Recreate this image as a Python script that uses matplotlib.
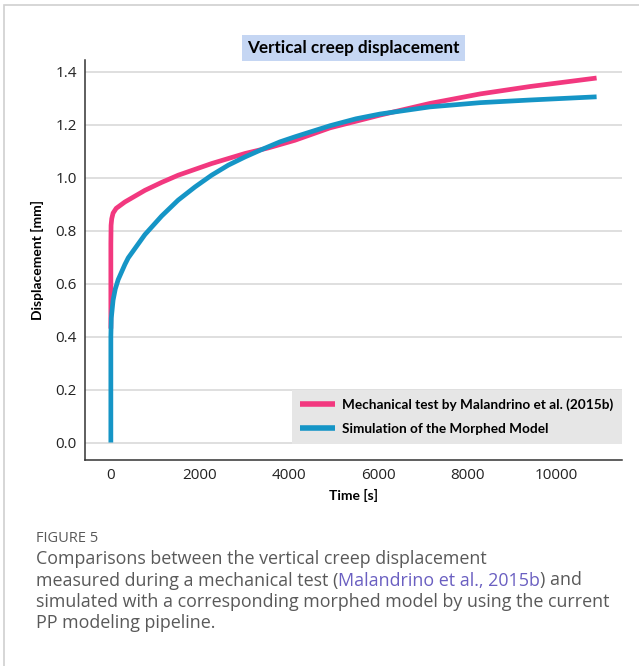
import matplotlib
matplotlib.use("Agg")
import matplotlib.pyplot as plt
from matplotlib.patches import Rectangle

t_test = [0, 0, 5, 20, 50, 120, 315, 765, 1140, 1510, 2260, 3010, 3530, 4130,
          4920, 6040, 7160, 8290, 9410, 10900]
d_test = [0.43, 0.75, 0.82, 0.845, 0.866, 0.884, 0.908, 0.952, 0.982, 1.009, 1.053,
          1.091, 1.112, 1.141, 1.188, 1.236, 1.280, 1.316, 1.344, 1.376]

t_sim = [0, 0, 10, 50, 100, 165, 315, 390, 765, 1140, 1510, 1890, 2260, 2635, 3010,
         3385, 3795, 4130, 4920, 5500, 6040, 7160, 8290, 9410, 10900]
d_sim = [0.0, 0.40, 0.47, 0.537, 0.58, 0.615, 0.672, 0.697, 0.785, 0.855, 0.915,
         0.965, 1.009, 1.047, 1.078, 1.106, 1.135, 1.154, 1.196, 1.222, 1.240,
         1.267, 1.283, 1.293, 1.305]

x_ticks = [0, 2000, 4000, 6000, 8000, 10000]
y_ticks = [0.0, 0.2, 0.4, 0.6, 0.8, 1.0, 1.2, 1.4]

PINK = "#f2387f"
BLUE = "#1595c6"
LINK = "#6a5fc1"
CAP = "#595959"

fig = plt.figure(figsize=(6.39, 6.66), dpi=100)

# card border of the screenshot
fig.patches.append(Rectangle((4 / 639, -0.1), 1.1, 1 - 5 / 666 + 0.1,
                             transform=fig.transFigure, fill=False,
                             edgecolor="#d0d0d0", linewidth=1.2))

ax = fig.add_axes([85 / 639, 1 - 460 / 666, (622 - 85) / 639, (460 - 60) / 666])

ax.plot(t_test, d_test, color=PINK, lw=3.4, solid_capstyle="butt",
        solid_joinstyle="round",
        label="Mechanical test by Malandrino et al. (2015b)", zorder=3)
ax.plot(t_sim, d_sim, color=BLUE, lw=3.4, solid_capstyle="butt",
        solid_joinstyle="round",
        label="Simulation of the Morphed Model", zorder=4)

ax.set_xlim(-580, 11470)
ax.set_ylim(-0.066, 1.444)
ax.set_xticks(x_ticks)
ax.set_yticks(y_ticks)
ax.set_yticklabels([f"{v:.1f}" for v in y_ticks])
ax.tick_params(length=0, labelsize=11, labelcolor="#222222", pad=6)
for lab in ax.get_xticklabels() + ax.get_yticklabels():
    lab.set_family("Open Sans")

ax.grid(axis="y", color="#dcdcdc", lw=1.3)
ax.set_axisbelow(True)
for s in ["top", "right"]:
    ax.spines[s].set_visible(False)
for s in ["left", "bottom"]:
    ax.spines[s].set_color("#333333")
    ax.spines[s].set_linewidth(1.1)

ax.set_xlabel("Time [s]", family="Lato", fontweight="bold", fontsize=10, labelpad=4)
ax.set_ylabel("Displacement [mm]", family="Lato", fontweight="bold", fontsize=10, labelpad=8)

ax.set_title("Vertical creep displacement", family="Lato", fontweight="bold",
             fontsize=12.3, pad=5,
             bbox=dict(facecolor="#c5d6f3", edgecolor="none", boxstyle="square,pad=0.3"))

leg = ax.legend(loc="lower right", bbox_to_anchor=(1.0, 0.041), borderaxespad=0,
                frameon=True, fancybox=False, facecolor="#e6e6e6", edgecolor="none",
                framealpha=1, prop=dict(family="Lato", size=9.8, weight="bold"),
                handlelength=2.55, handletextpad=0.5, labelspacing=0.85,
                borderpad=0.65)
for line in leg.get_lines():
    line.set_linewidth(4)

# caption
fig.text(36 / 639, 1 - 539 / 666, "FIGURE 5", family="Open Sans", fontsize=10.5,
         color=CAP, va="center")
cap_lines = [
    [("Comparisons between the vertical creep displacement", CAP)],
    [("measured during a mechanical test (", CAP), ("Malandrino et al., 2015b", LINK),
     (") and", CAP)],
    [("simulated with a corresponding morphed model by using the current", CAP)],
    [("PP modeling pipeline.", CAP)],
]
cap_y = [559, 580.5, 602, 623.5]

fig.canvas.draw()
renderer = fig.canvas.get_renderer()
for parts, yy in zip(cap_lines, cap_y):
    x = 36 / 639
    for txt, col in parts:
        t = fig.text(x, 1 - yy / 666, txt, family="Open Sans", fontsize=12.9,
                     color=col, va="center")
        bb = t.get_window_extent(renderer)
        x += bb.width / fig.bbox.width

fig.savefig("out.png", dpi=100)
